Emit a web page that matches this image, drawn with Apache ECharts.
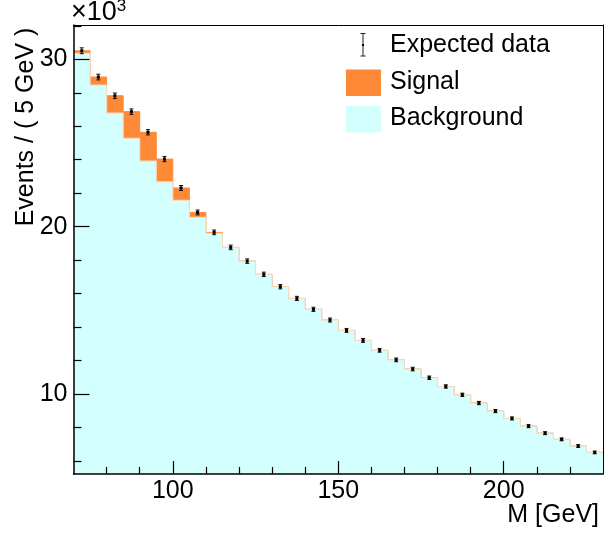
<!DOCTYPE html>
<html><head><meta charset="utf-8">
<script src="https://cdn.jsdelivr.net/npm/echarts@6/dist/echarts.min.js"></script>
<style>html,body{margin:0;padding:0;background:#fff}#c{width:604px;height:536px}</style>
</head><body><div id="c"></div>
<script>
// ---- data ----
const binLow = [70,75,80,85,90,95,100,105,110,115,120,125,130,135,140,145,150,155,160,165,170,175,180,185,190,195,200,205,210,215,220,225];
const binWidth = 5;
const background = [30360,28460,26790,25280,23920,22680,21570,20560,19600,18760,17940,17150,16410,15710,15060,14420,13800,13200,12610,12040,11490,10970,10450,9950,9460,8980,8540,8080,7660,7290,6890,6510];
const signal = [150,480,1030,1590,1720,1360,740,290,60,0,0,0,0,0,0,0,0,0,0,0,0,0,0,0,0,0,0,0,0,0,0,0];
const expectedData = [30510,28940,27820,26870,25640,24040,22310,20850,19660,18760,17940,17150,16410,15710,15060,14420,13800,13200,12610,12040,11490,10970,10450,9950,9460,8980,8540,8080,7660,7290,6890,6510];
const dataErrors = [175,170,167,164,160,155,149,144,140,137,134,131,128,125,123,120,117,115,112,110,107,105,102,100,97,95,92,90,88,85,83,81];
const xMajorTicks = [100,150,200];
const xMinorTicks = [80,90,110,120,130,140,160,170,180,190,210,220];
const yMajorTicks = [10000,20000,30000];
const yMinorTicks = [6000,8000,12000,14000,16000,18000,22000,24000,26000,28000,32000];
const xRange = [70,230];
const yRange = [5220,32050];

const FONT = '"Liberation Sans", Arial, Helvetica, sans-serif';
const ORANGE = '#fe8937';
const CYAN = '#d4ffff';
const BEIGE = '#f3dcc4';

function stepPoints(vals){
  const pts = binLow.map((x,i)=>[x, vals[i]]);
  pts.push([binLow[binLow.length-1]+binWidth, vals[vals.length-1]]);
  return pts;
}
const total = background.map((b,i)=>b+signal[i]);

const chart = echarts.init(document.getElementById('c'), null, {renderer:'canvas'});
const grid = {left:73.5, right:1, top:25, bottom:62, containLabel:false};

const baseX = {type:'value', min:xRange[0], max:xRange[1], splitLine:{show:false}, z:20};
const baseY = {type:'value', min:yRange[0], max:yRange[1], splitLine:{show:false}, z:20};

chart.setOption({
  animation:false,
  grid: grid,
  xAxis: [
    Object.assign({}, baseX, {position:'bottom', axisLine:{show:true, onZero:false, lineStyle:{color:'#000', width:1.5}},
      axisTick:{show:true, inside:true, length:13, customValues:xMajorTicks, lineStyle:{color:'#000', width:1.2}},
      axisLabel:{show:true, customValues:xMajorTicks, margin:5, color:'#000', fontSize:25, fontFamily:FONT}}),
    Object.assign({}, baseX, {position:'bottom', axisLine:{show:false},
      axisTick:{show:true, inside:true, length:7, customValues:xMinorTicks, lineStyle:{color:'#000', width:1.2}},
      axisLabel:{show:false}}),
    Object.assign({}, baseX, {position:'top', axisLine:{show:true, onZero:false, lineStyle:{color:'#000', width:1}},
      axisTick:{show:false}, axisLabel:{show:false}})
  ],
  yAxis: [
    Object.assign({}, baseY, {position:'left', axisLine:{show:true, onZero:false, lineStyle:{color:'#000', width:1.5}},
      axisTick:{show:true, inside:true, length:16, customValues:yMajorTicks, lineStyle:{color:'#000', width:1.2}},
      axisLabel:{show:true, customValues:yMajorTicks, margin:6, color:'#000', fontSize:25, fontFamily:FONT,
        formatter:(v)=>String(Math.round(v/1000))}}),
    Object.assign({}, baseY, {position:'left', axisLine:{show:false},
      axisTick:{show:true, inside:true, length:8, customValues:yMinorTicks, lineStyle:{color:'#000', width:1.2}},
      axisLabel:{show:false}}),
    Object.assign({}, baseY, {position:'right', axisLine:{show:true, onZero:false, lineStyle:{color:'#000', width:1}},
      axisTick:{show:false}, axisLabel:{show:false}})
  ],
  series: [
    {name:'Signal', type:'line', xAxisIndex:0, yAxisIndex:0, step:'end', showSymbol:false, symbol:'none',
      data: stepPoints(total), lineStyle:{color:ORANGE, width:1}, areaStyle:{color:ORANGE, opacity:1, origin:'start'}, z:1},
    {name:'Background', type:'line', xAxisIndex:0, yAxisIndex:0, step:'end', showSymbol:false, symbol:'none',
      data: stepPoints(background), lineStyle:{color:BEIGE, width:1.2}, areaStyle:{color:CYAN, opacity:1, origin:'start'}, z:2},
    {name:'Expected data', type:'custom', xAxisIndex:0, yAxisIndex:0, z:3, clip:true,
      data: binLow.map((x,i)=>[x+binWidth/2, expectedData[i], dataErrors[i]]),
      encode:{x:0, y:1},
      renderItem:function(params, api){
        const x = api.value(0), y = api.value(1), e = api.value(2);
        const p = api.coord([x,y]);
        const t = api.coord([x,y+e]);
        const b = api.coord([x,y-e]);
        const cw = 2;
        const st = {stroke:'#111', lineWidth:1};
        return {type:'group', children:[
          {type:'line', shape:{x1:p[0], y1:t[1], x2:p[0], y2:b[1]}, style:st},
          {type:'line', shape:{x1:p[0]-cw, y1:t[1], x2:p[0]+cw, y2:t[1]}, style:st},
          {type:'line', shape:{x1:p[0]-cw, y1:b[1], x2:p[0]+cw, y2:b[1]}, style:st},
          {type:'rect', shape:{x:p[0]-1.5, y:p[1]-1.5, width:3, height:3}, style:{fill:'#000'}}
        ]};
      }
    }
  ],
  graphic: [
    // y-axis title
    {type:'text', x:26, y:127, rotation:Math.PI/2, z:10,
      style:{text:'Events / ( 5 GeV )', font:'25px '+FONT, fill:'#000', align:'center', verticalAlign:'middle'}},
    // x-axis title
    {type:'text', x:599, y:515, z:10,
      style:{text:'M [GeV]', font:'25px '+FONT, fill:'#000', align:'right', verticalAlign:'middle'}},
    // exponent
    {type:'text', x:71, y:13, z:10,
      style:{text:'×10{s|3}', font:'27px '+FONT, fill:'#000', align:'left', verticalAlign:'middle',
        rich:{s:{font:'17px '+FONT, fill:'#000', verticalAlign:'top', padding:[0,0,14,0]}}}},
    // legend: expected data
    {type:'group', z:10, children:[
      {type:'line', shape:{x1:363, y1:33.5, x2:363, y2:56}, style:{stroke:'#222', lineWidth:1}},
      {type:'line', shape:{x1:360.5, y1:33.5, x2:365.5, y2:33.5}, style:{stroke:'#222', lineWidth:1}},
      {type:'line', shape:{x1:360.5, y1:56, x2:365.5, y2:56}, style:{stroke:'#222', lineWidth:1}},
      {type:'rect', shape:{x:362, y:44, width:2, height:2}, style:{fill:'#000'}}
    ]},
    {type:'text', x:390, y:45, z:10, style:{text:'Expected data', font:'25px '+FONT, fill:'#000', verticalAlign:'middle'}},
    // legend: signal
    {type:'rect', z:10, shape:{x:346, y:69.5, width:35, height:26.5}, style:{fill:ORANGE}},
    {type:'text', x:390, y:82, z:10, style:{text:'Signal', font:'25px '+FONT, fill:'#000', verticalAlign:'middle'}},
    // legend: background
    {type:'rect', z:10, shape:{x:346, y:106, width:35, height:26.5}, style:{fill:CYAN}},
    {type:'text', x:390, y:118, z:10, style:{text:'Background', font:'25px '+FONT, fill:'#000', verticalAlign:'middle'}}
  ]
});
</script>
</body></html>
